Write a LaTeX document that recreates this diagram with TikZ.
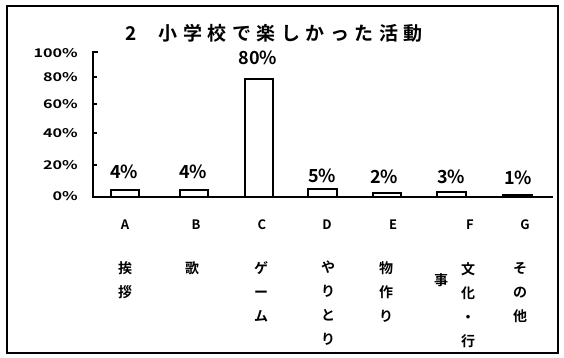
\documentclass[tikz,border=0pt]{standalone}
\usepackage{fontspec}
\setmainfont{Noto Sans CJK JP}[BoldFont={Noto Sans CJK JP Bold}]
\usetikzlibrary{positioning}
\newcommand{\wide}[1]{\scalebox{1.35}[1]{#1}}
\newcommand{\tsp}{\hspace{5.5pt}}

\begin{document}
\begin{tikzpicture}[x=1pt,y=-1pt,% pixel-like units, y grows downward
    every node/.style={inner sep=0pt,font=\bfseries},
    ylabel/.style={anchor=east,font=\bfseries\fontsize{12}{12}\selectfont},
    value/.style={font=\bfseries\fontsize{18}{18}\selectfont},
    letter/.style={font=\bfseries\fontsize{13}{13}\selectfont},
    catname/.style={anchor=north,align=center,font=\bfseries\fontsize{14}{24}\selectfont},
    bar/.style={draw,line width=1.5pt,fill=white}
  ]
  \useasboundingbox (0,0) rectangle (564,357);
  \draw[line width=1.3pt] (7,6) rectangle (558,353);
  \node (title) at (274,33) {\fontsize{19}{19}\selectfont
    2\hspace{22pt}小\tsp 学\tsp 校\tsp で\tsp 楽\tsp し\tsp か\tsp っ\tsp た\tsp 活\tsp 動};

  % y axis
  \node[ylabel] (y100) at (78,53)  {\wide{100\%}};
  \node[ylabel] (y80)  at (78,77)  {\wide{80\%}};
  \node[ylabel] (y60)  at (78,104) {\wide{60\%}};
  \node[ylabel] (y40)  at (78,133) {\wide{40\%}};
  \node[ylabel] (y20)  at (78,165) {\wide{20\%}};
  \node[ylabel] (y0)   at (78,196) {\wide{0\%}};
  \coordinate (origin) at (93,197);
  \coordinate (top) at (93,51);
  \coordinate (end) at (553,197);
  \draw[line width=1.8pt] (top) -- (origin) -- (end);
  \draw[line width=1.5pt] (93,52) -- ++(5,0) (93,77) -- ++(4,0) (93,104) -- ++(4,0)
    (93,133) -- ++(4,0) (93,165) -- ++(4,0);

  % bars
  \draw[bar] (111,197) rectangle (139,190);
  \draw[bar] (180,197) rectangle (208,190);
  \draw[bar] (245,197) rectangle (273,79);
  \draw[bar] (308,197) rectangle (337,189);
  \draw[bar] (373,197) rectangle (401,193);
  \draw[bar] (437,197) rectangle (466,192);
  \draw[bar] (503,197) rectangle (532,195);

  % values
  \node[value] (vA) at (124,172) {4\%};
  \node[value] (vB) at (193,172) {4\%};
  \node[value] (vC) at (258,58)  {80\%};
  \node[value] (vD) at (322,176) {5\%};
  \node[value] (vE) at (384,177) {2\%};
  \node[value] (vF) at (451,177) {3\%};
  \node[value] (vG) at (518,178) {1\%};

  % categories
  \node[letter] (A) at (125,225) {A};
  \node[letter] (B) at (196,225) {B};
  \node[letter] (C) at (262,225) {C};
  \node[letter] (D) at (327,225) {D};
  \node[letter] (E) at (393,225) {E};
  \node[letter] (F) at (470,225) {F};
  \node[letter] (G) at (525,225) {G};

  \node[catname] (nA) at (125,261) {挨\\拶};
  \node[catname] (nB) at (192,261) {歌};
  \node[catname] (nC) at (261,261) {ゲ\\ー\\ム};
  \node[catname] (nD) at (328,261) {や\\り\\と\\り};
  \node[catname] (nE) at (386,261) {物\\作\\り};
  \node[catname] (nF) at (468,262) {文\\化\\・\\行};
  \node[catname] (nF2) at (441,273) {事};
  \node[catname] (nG) at (520,262) {そ\\の\\他};
\end{tikzpicture}
\end{document}
